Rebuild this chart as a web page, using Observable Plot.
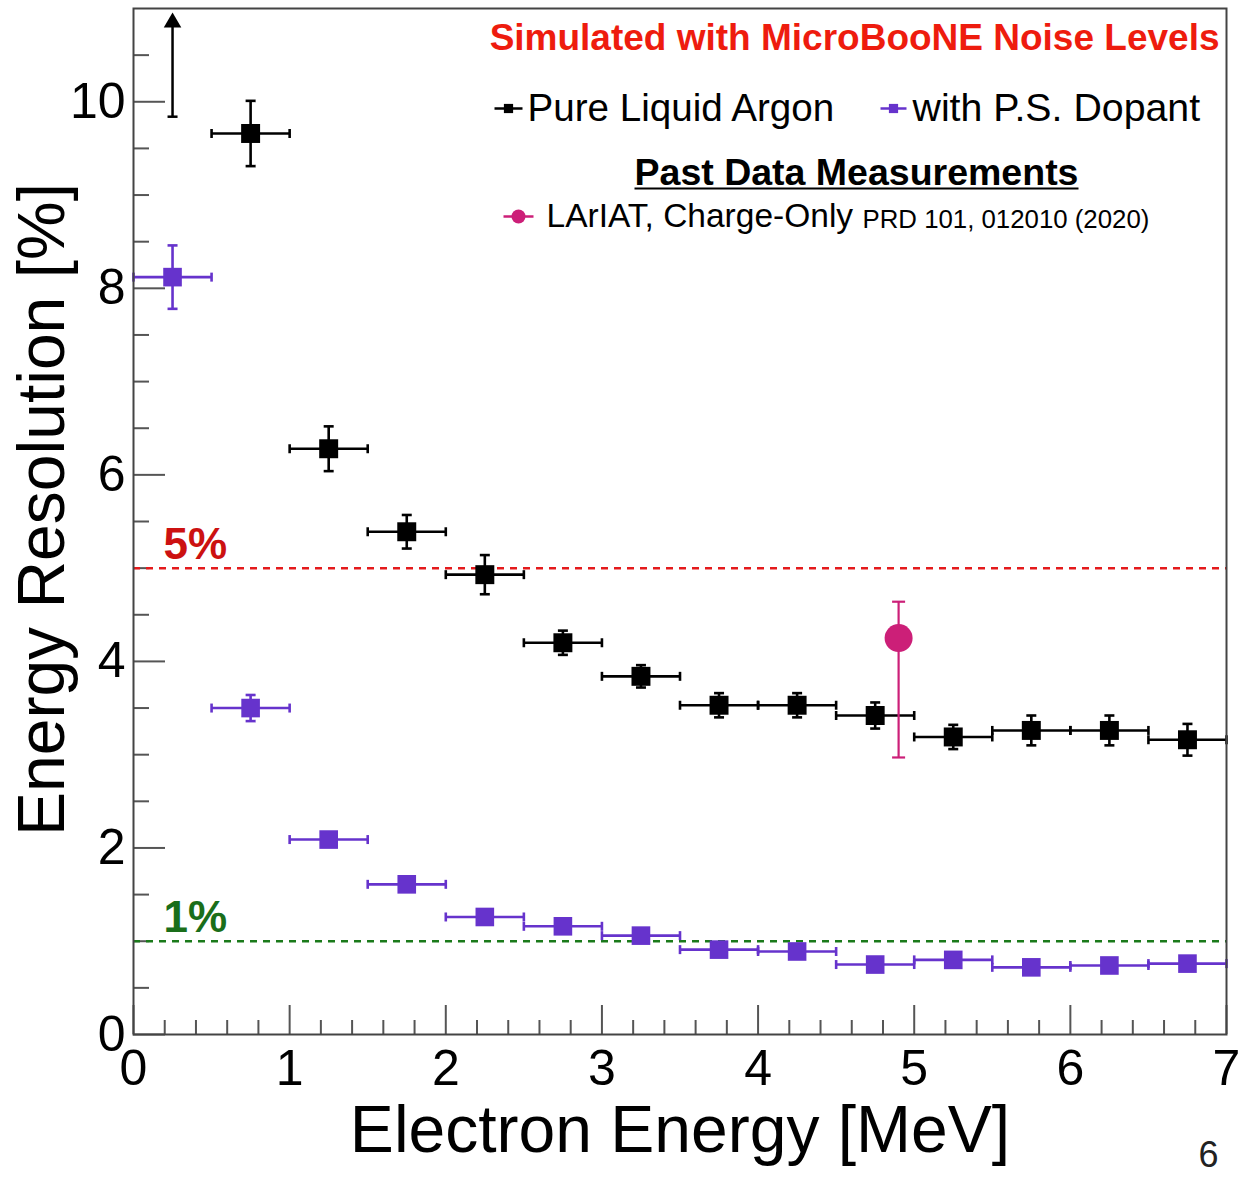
<!DOCTYPE html>
<html>
<head>
<meta charset="utf-8">
<script src="https://cdn.jsdelivr.net/npm/d3@7"></script>
<script src="https://cdn.jsdelivr.net/npm/@observablehq/plot@0.6"></script>
<style>
  html, body { margin: 0; padding: 0; background: #fff; }
  #chart svg { display: block; }
</style>
</head>
<body>
<div id="chart"></div>
<script>
// ---- data ----
const energyBins   = [0.25, 0.75, 1.25, 1.75, 2.25, 2.75, 3.25, 3.75, 4.25, 4.75, 5.25, 5.75, 6.25, 6.75];
const binHalfWidth = 0.25;
const pureLAr      = [null, 9.66, 6.28, 5.39, 4.93, 4.20, 3.84, 3.53, 3.53, 3.42, 3.19, 3.26, 3.26, 3.16];
const pureLArErr   = [null, 0.35, 0.24, 0.18, 0.21, 0.13, 0.12, 0.13, 0.13, 0.14, 0.13, 0.16, 0.16, 0.17];
const psDopant     = [8.12, 3.50, 2.09, 1.61, 1.26, 1.16, 1.06, 0.91, 0.89, 0.75, 0.80, 0.72, 0.74, 0.76];
const psDopantErr  = [0.34, 0.14, 0.03, 0.03, 0.03, 0.03, 0.03, 0.03, 0.03, 0.03, 0.03, 0.03, 0.03, 0.03];
// off-scale first Pure LAr bin: lower limit arrow
const limitE   = [0.25];
const limitLow = [9.84];
const limitTip = [10.85];
// LArIAT measurement
const lariatE   = [4.9];
const lariatRes = [4.25];
const lariatLo  = [2.97];
const lariatHi  = [4.64];
// reference lines
const refLines  = [5, 1];
const refLabels = ["5%", "1%"];
// ticks
const xMajor = [0, 1, 2, 3, 4, 5, 6, 7];
const xMinor = d3.range(0, 7.001, 0.2).map(v => +v.toFixed(1)).filter(v => Math.abs(v - Math.round(v)) > 1e-6);
const yMajor = [0, 2, 4, 6, 8, 10];
const yMinor = d3.range(0, 10.51, 0.5).filter(v => v % 2 !== 0);

// ---- tables ----
const black = energyBins.map((e, i) => ({e, r: pureLAr[i], err: pureLArErr[i]})).filter(d => d.r != null);
const purple = energyBins.map((e, i) => ({e, r: psDopant[i], err: psDopantErr[i]}));
const limits = limitE.map((e, i) => ({e, lo: limitLow[i], tip: limitTip[i]}));
const lariat = lariatE.map((e, i) => ({e, r: lariatRes[i], lo: lariatLo[i], hi: lariatHi[i]}));

// ---- custom line symbols ----
const hline = {draw(ctx, size) { const r = Math.sqrt(size / Math.PI); ctx.moveTo(-r, 0); ctx.lineTo(r, 0); }};
const vline = {draw(ctx, size) { const r = Math.sqrt(size / Math.PI); ctx.moveTo(0, -r); ctx.lineTo(0, r); }};

const W = 1244, H = 1179, mL = 133, mR = 18, mT = 8, mB = 145;
const frameW = W - mL - mR, frameH = H - mT - mB;
const BLACK = "#000", PURPLE = "#6633cc", MAGENTA = "#cc1f78";

function series(data, color, sw, sq) {
  return [
    Plot.ruleY(data, {y: "r", x1: d => Math.max(0, d.e - binHalfWidth), x2: d => d.e + binHalfWidth, stroke: color, strokeWidth: sw}),
    Plot.dot(data, {x: d => Math.max(0, d.e - binHalfWidth), y: "r", symbol: vline, r: 4.5, stroke: color, fill: "none", strokeWidth: sw}),
    Plot.dot(data, {x: d => d.e + binHalfWidth, y: "r", symbol: vline, r: 4.5, stroke: color, fill: "none", strokeWidth: sw}),
    Plot.ruleX(data, {x: "e", y1: d => d.r - d.err, y2: d => d.r + d.err, stroke: color, strokeWidth: sw}),
    Plot.dot(data, {x: "e", y: d => d.r - d.err, symbol: hline, r: 5, stroke: color, fill: "none", strokeWidth: sw}),
    Plot.dot(data, {x: "e", y: d => d.r + d.err, symbol: hline, r: 5, stroke: color, fill: "none", strokeWidth: sw}),
    Plot.dot(data, {x: "e", y: "r", symbol: "square", r: sq, fill: color, stroke: "none"})
  ];
}

const font = "'Liberation Sans', Arial, Helvetica, sans-serif";

const chart = Plot.plot({
  width: W, height: H,
  marginLeft: mL, marginRight: mR, marginTop: mT, marginBottom: mB,
  x: {domain: [0, 7]},
  y: {domain: [0, 11]},
  style: {fontFamily: font, background: "#fff", color: "#000"},
  marks: [
    // ticks (inward)
    Plot.tickX(xMajor, {x: d => d, insetTop: frameH - 29, stroke: "#555", strokeWidth: 2}),
    Plot.tickX(xMinor, {x: d => d, insetTop: frameH - 14, stroke: "#555", strokeWidth: 2}),
    Plot.tickY(yMajor, {y: d => d, insetRight: frameW - 32, stroke: "#555", strokeWidth: 2}),
    Plot.tickY(yMinor, {y: d => d, insetRight: frameW - 16, stroke: "#555", strokeWidth: 2}),
    Plot.axisX({ticks: xMajor, tickSize: 0, tickPadding: 15, fontSize: 50, label: null, tickFormat: d => String(d), fill: "#000"}),
    Plot.axisY({ticks: yMajor, tickSize: 0, tickPadding: 8, fontSize: 50, label: null, tickFormat: d => String(d), fill: "#000"}),
    // reference lines
    Plot.ruleY([refLines[0]], {y: d => d, stroke: "#e41a1c", strokeWidth: 2.5, strokeDasharray: "7,6"}),
    Plot.ruleY([refLines[1]], {y: d => d, stroke: "#1a7a1a", strokeWidth: 2.5, strokeDasharray: "7,6"}),
    Plot.text([refLines[0]], {y: d => d, text: () => refLabels[0], frameAnchor: "left", dx: 30, dy: -23, textAnchor: "start", lineAnchor: "middle", fontSize: 44, fontWeight: "bold", fill: "#cc1111"}),
    Plot.text([refLines[1]], {y: d => d, text: () => refLabels[1], frameAnchor: "left", dx: 30, dy: -23, textAnchor: "start", lineAnchor: "middle", fontSize: 44, fontWeight: "bold", fill: "#1a6e1a"}),
    // lower-limit arrow
    Plot.ruleX(limits, {x: "e", y1: "lo", y2: "tip", stroke: BLACK, strokeWidth: 2.5}),
    Plot.dot(limits, {x: "e", y: "lo", symbol: hline, r: 5, stroke: BLACK, fill: "none", strokeWidth: 2.5}),
    Plot.dot(limits, {x: "e", y: "tip", symbol: "triangle", r: 6.5, fill: BLACK, stroke: "none"}),
    // series
    ...series(purple, PURPLE, 2.6, 10.5),
    ...series(black, BLACK, 2.6, 10.7),
    // LArIAT
    Plot.ruleX(lariat, {x: "e", y1: "lo", y2: "hi", stroke: MAGENTA, strokeWidth: 2.2}),
    Plot.dot(lariat, {x: "e", y: "lo", symbol: hline, r: 6.5, stroke: MAGENTA, fill: "none", strokeWidth: 2.2}),
    Plot.dot(lariat, {x: "e", y: "hi", symbol: hline, r: 6.5, stroke: MAGENTA, fill: "none", strokeWidth: 2.2}),
    Plot.dot(lariat, {x: "e", y: "r", r: 14, fill: MAGENTA, stroke: "none"}),
    // frame
    Plot.frame({stroke: "#444", strokeWidth: 2}),
    // annotation title
    Plot.text(["Simulated with MicroBooNE Noise Levels"], {frameAnchor: "top-right", dx: -7, dy: 30, textAnchor: "end", lineAnchor: "middle", fontSize: 37, fontWeight: "bold", fill: "#ee1c0e"}),
    // legend
    Plot.dot([0], {frameAnchor: "top-left", dx: 375, dy: 100, symbol: hline, r: 14, stroke: BLACK, fill: "none", strokeWidth: 2.5}),
    Plot.dot([0], {frameAnchor: "top-left", dx: 375, dy: 100, symbol: "square", r: 5.2, fill: BLACK}),
    Plot.text(["Pure Liquid Argon"], {frameAnchor: "top-left", dx: 394, dy: 100, textAnchor: "start", lineAnchor: "middle", fontSize: 38.6, fill: "#000"}),
    Plot.dot([0], {frameAnchor: "top-left", dx: 760, dy: 100, symbol: hline, r: 13, stroke: PURPLE, fill: "none", strokeWidth: 2.5}),
    Plot.dot([0], {frameAnchor: "top-left", dx: 760, dy: 100, symbol: "square", r: 5.2, fill: PURPLE}),
    Plot.text(["with P.S. Dopant"], {frameAnchor: "top-left", dx: 779, dy: 100, textAnchor: "start", lineAnchor: "middle", fontSize: 39.3, fill: "#000"}),
    Plot.text(["Past Data Measurements"], {frameAnchor: "top-left", dx: 723, dy: 164, textAnchor: "middle", lineAnchor: "middle", fontSize: 37.5, fontWeight: "bold", fill: "#000"}),
    Plot.dot([0], {frameAnchor: "top-left", dx: 723, dy: 180, symbol: hline, r: 222, stroke: "#000", fill: "none", strokeWidth: 2}),
    Plot.dot([0], {frameAnchor: "top-left", dx: 385, dy: 208, symbol: hline, r: 15, stroke: MAGENTA, fill: "none", strokeWidth: 2.5}),
    Plot.dot([0], {frameAnchor: "top-left", dx: 385, dy: 208, r: 7, fill: MAGENTA}),
    Plot.text(["LArIAT, Charge-Only"], {frameAnchor: "top-left", dx: 413, dy: 208, textAnchor: "start", lineAnchor: "middle", fontSize: 33.5, fill: "#000"}),
    Plot.text(["PRD 101, 012010 (2020)"], {frameAnchor: "top-left", dx: 729, dy: 211, textAnchor: "start", lineAnchor: "middle", fontSize: 25.8, fill: "#000"}),
    // axis titles
    Plot.text(["Electron Energy [MeV]"], {frameAnchor: "bottom", dy: 96, textAnchor: "middle", lineAnchor: "middle", fontSize: 66, fill: "#000"}),
    Plot.text(["Energy Resolution [%]"], {frameAnchor: "left", dx: -91, dy: -12, rotate: -90, textAnchor: "middle", lineAnchor: "middle", fontSize: 66, fill: "#000"}),
    // page number
    Plot.text(["6"], {frameAnchor: "bottom-right", dx: -18, dy: 121, textAnchor: "middle", lineAnchor: "middle", fontSize: 36, fill: "#222"})
  ]
});
document.getElementById("chart").appendChild(chart);
</script>
</body>
</html>
